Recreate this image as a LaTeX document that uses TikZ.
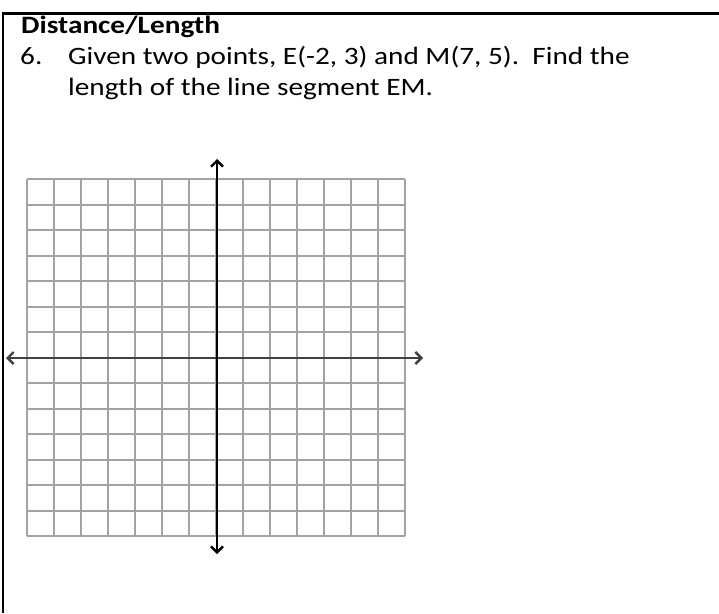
\documentclass[tikz,border=0pt]{standalone}
\usepackage{graphicx}
\usepackage{fontspec}
\setmainfont{Carlito}
\usetikzlibrary{arrows.meta}
\newcommand{\wide}[1]{\scalebox{1.17}[1]{#1}}
\begin{document}
\begin{tikzpicture}[x=1pt,y=-1pt,
  txt/.style={anchor=base west,inner sep=0pt,font=\fontsize{25}{30}\selectfont},
  gridline/.style={draw=black!36,line width=1.4pt},
  axis/.style={line width=2pt,-{Straight Barb[length=6pt,width=12pt,line width=2.4pt]}},
  frame/.style={line width=2.2pt}]
\useasboundingbox (0,0) rectangle (719,613);
\fill[white] (0,0) rectangle (719,613);
% frame
\coordinate (ftl) at (3,13.5);
\coordinate (ftr) at (719,13.5);
\coordinate (fbl) at (3,613);
\draw[frame] (fbl) -- (ftl) -- (ftr);
% texts
\node[txt,font=\fontsize{25}{30}\selectfont\bfseries] (title) at (21,33) {\wide{Distance/Length}};
\node[txt] (num) at (20,64) {\wide{6.}};
\node[txt] (q1) at (68,64) {\wide{Given two points, E(-2, 3) and M(7, 5).\ \ Find the}};
\node[txt] (q2) at (68,95) {\wide{length of the line segment EM.}};
% grid
\foreach \i in {0,...,14} {
  \draw[gridline] (27+27*\i,179) -- (27+27*\i,536);
}
\foreach \y in {179,205,230,256,281,307,332,358,383,409,434,460,485,511,536} {
  \draw[gridline] (27,\y) -- (405,\y);
}
% axes
\coordinate (yb) at (217,554);
\coordinate (yt) at (217,159);
\coordinate (xl) at (6,358);
\coordinate (xr) at (423,358);
\coordinate (o) at (217,358);
\draw[axis,black!75] (o) -- (xl);
\draw[axis,black!75] (o) -- (xr);
\draw[axis] (o) -- (yt);
\draw[axis] (o) -- (yb);
\end{tikzpicture}
\end{document}
